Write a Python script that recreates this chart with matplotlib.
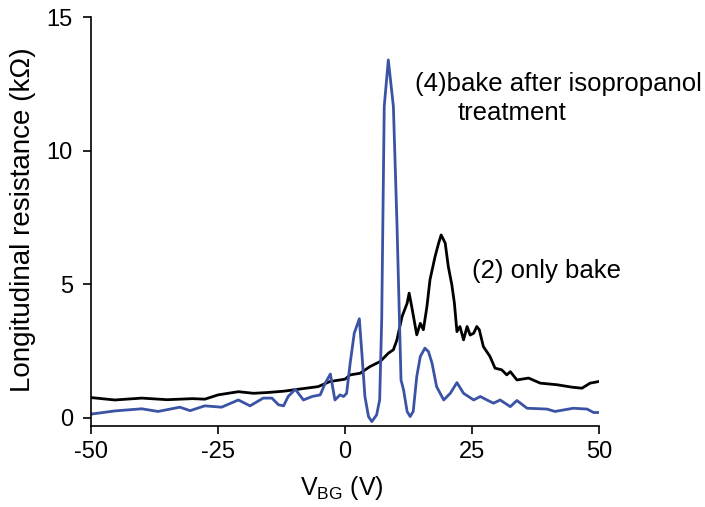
import matplotlib
matplotlib.use("Agg")
import matplotlib.pyplot as plt

plt.rcParams['font.family'] = ['Liberation Sans', 'DejaVu Sans']

# (2) only bake
v_bake = [-50, -45.3, -40, -35, -30, -27.6, -25, -21, -18, -15.2, -12, -9.3, -5.3, -3, 0, 1,
          2.95, 4.9, 6.9, 8.5, 9.5, 10.2, 11.2, 12.2, 12.6, 13.1, 14.1, 14.8, 15.4, 16.1, 16.7,
          17.7, 18.4, 18.9, 19.7, 20.3, 21.0, 21.5, 22.0, 22.6, 23.3, 24.0, 24.6, 25.3, 25.9,
          26.4, 27.2, 28.5, 29.5, 30.8, 31.8, 32.5, 33.8, 36.1, 38.4, 41.7, 44.6, 46.6, 48.2, 49.9]
r_bake = [0.76, 0.67, 0.74, 0.68, 0.72, 0.70, 0.86, 0.98, 0.92, 0.95, 1.0, 1.07, 1.17, 1.36, 1.45, 1.61,
          1.67, 1.92, 2.11, 2.42, 2.55, 2.92, 3.79, 4.29, 4.67, 4.17, 3.11, 3.54, 3.3, 4.17, 5.17,
          6.04, 6.54, 6.85, 6.54, 5.67, 4.98, 4.3, 3.23, 3.42, 2.92, 3.42, 3.1, 3.17, 3.42,
          3.3, 2.67, 2.3, 1.86, 1.8, 1.61, 1.73, 1.42, 1.49, 1.3, 1.24, 1.15, 1.11, 1.3, 1.36]

# (4) bake after isopropanol treatment
v_ipa = [-50, -45.3, -40, -36.8, -32.5, -30.5, -27.6, -24.3, -21.0, -18.7, -16.1, -14.4, -13.1,
         -12.1, -11.2, -9.8, -8.2, -6.5, -4.9, -3.9, -2.9, -2.0, -1.0, -0.3, 0.3, 1.0, 1.8, 2.8,
         3.3, 3.9, 4.6, 5.25, 6.2, 6.8, 7.2, 7.7, 8.5, 9.5, 10.2, 11.0, 11.5, 12.2, 12.8, 13.4,
         14.1, 14.8, 15.7, 16.4, 17.1, 18.0, 19.4, 20.7, 22.0, 23.3, 25.3, 26.6, 27.9, 29.2,
         30.5, 32.5, 33.8, 35.8, 39.7, 41.3, 44.9, 47.6, 48.9, 49.9]
r_ipa = [0.14, 0.26, 0.34, 0.24, 0.4, 0.27, 0.45, 0.4, 0.67, 0.45, 0.74, 0.74, 0.49,
         0.45, 0.8, 1.07, 0.67, 0.8, 0.86, 1.3, 1.64, 0.67, 0.86, 0.8, 0.92, 2.05, 3.17, 3.71,
         2.42, 0.8, 0.05, -0.14, 0.11, 0.67, 3.67, 11.66, 13.4, 11.66, 7.3, 1.42, 1.05, 0.24, 0.05, 0.24,
         1.55, 2.3, 2.61, 2.48, 2.05, 1.17, 0.67, 0.92, 1.32, 0.92, 0.67, 0.8, 0.67, 0.55,
         0.67, 0.42, 0.65, 0.36, 0.33, 0.24, 0.36, 0.33, 0.2, 0.2]

fig = plt.figure(figsize=(7.05, 5.07), dpi=100)
ax = fig.add_axes([0.129, 0.16, 0.721, 0.806])

ax.plot(v_bake, r_bake, color='black', lw=2.0)
ax.plot(v_ipa, r_ipa, color='#3a53a4', lw=2.0)

ax.set_xlim(-50, 50)
ax.set_ylim(-0.3, 15)
ax.set_xticks([-50, -25, 0, 25, 50])
ax.set_xticklabels(['-50', '-25', '0', '25', '50'])
ax.set_yticks([0, 5, 10, 15])

for s in ['top', 'right']:
    ax.spines[s].set_visible(False)
ax.spines['left'].set_linewidth(1.2)
ax.spines['bottom'].set_linewidth(1.2)
ax.tick_params(direction='out', length=6, width=1.2, labelsize=17)
ax.tick_params(axis='x', pad=5)
ax.tick_params(axis='y', pad=7)

# axis titles placed by hand
fig.text(342 / 705, 1 - 495 / 507, 'V$_{\\mathregular{BG}}$ (V)', fontsize=18,
         ha='center', va='baseline')
fig.text(23 / 705, 1 - 220 / 507, 'Longitudinal resistance (k\u03a9)', fontsize=20,
         rotation=90, ha='center', va='center')

fig.text(415 / 705, 1 - 84 / 507, '(4)bake after isopropanol', fontsize=18.5, va='center')
fig.text(458 / 705, 1 - 113.5 / 507, 'treatment', fontsize=18.5, va='center')
fig.text(472 / 705, 1 - 271 / 507, '(2) only bake', fontsize=18.5, va='center')

fig.savefig('out.png', dpi=100)
